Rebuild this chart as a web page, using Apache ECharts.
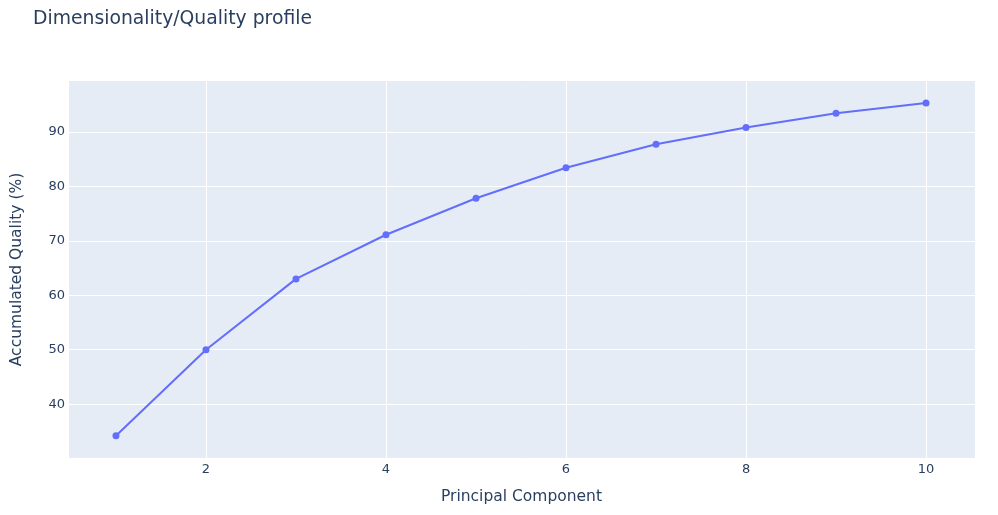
<!DOCTYPE html>
<html>
<head>
<meta charset="utf-8">
<script src="https://cdn.jsdelivr.net/npm/echarts@6/dist/echarts.min.js"></script>
<style>
  html, body { margin: 0; padding: 0; background: #fff; }
  #chart { width: 998px; height: 515px; }
</style>
</head>
<body>
<div id="chart"></div>
<script>
// Data
const components = [1, 2, 3, 4, 5, 6, 7, 8, 9, 10];
const quality = [34.2, 50.0, 63.0, 71.1, 77.8, 83.4, 87.7, 90.8, 93.4, 95.3];

const chart = echarts.init(document.getElementById('chart'));
const font = '"DejaVu Sans", Verdana, Arial, sans-serif';
const textColor = '#2a3f5f';

const option = {
    backgroundColor: '#fff',
    title: {
        text: 'Dimensionality/Quality profile',
        left: 28,
        top: 5,
        textStyle: { fontFamily: font, fontSize: 18.8, fontWeight: 'normal', color: textColor }
    },
    grid: {
        left: 68, right: 23, top: 80, bottom: 56,
        outerBoundsMode: 'none',
        containLabel: false,
        show: true, backgroundColor: '#e5ecf6', borderWidth: 0
    },
    xAxis: {
        type: 'value',
        min: 0.467,
        max: 10.544,
        splitNumber: 5,
        name: 'Principal Component',
        nameLocation: 'middle',
        nameGap: 30,
        nameTextStyle: { fontFamily: font, fontSize: 15.5, color: textColor },
        axisLine: { show: false },
        axisTick: { show: false },
        axisLabel: {
            showMinLabel: false, showMaxLabel: false, margin: 4,
            fontFamily: font, fontSize: 13, color: textColor,
            formatter: v => (v % 2 === 0 ? String(v) : '')
        },
        splitLine: { lineStyle: { color: '#fff', width: 1 } }
    },
    yAxis: {
        type: 'value',
        min: 29.95,
        max: 99.5,
        splitNumber: 7,
        name: 'Accumulated Quality (%)',
        nameLocation: 'middle',
        nameGap: 43,
        nameTextStyle: { fontFamily: font, fontSize: 15.5, color: textColor },
        axisLine: { show: false },
        axisTick: { show: false },
        axisLabel: {
            showMinLabel: false, showMaxLabel: false, margin: 3,
            fontFamily: font, fontSize: 13, color: textColor,
            formatter: v => (v >= 40 && v % 10 === 0 ? String(v) : '')
        },
        splitLine: { lineStyle: { color: '#fff', width: 1 } }
    },
    series: [{
        type: 'line',
        data: components.map((c, i) => [c, quality[i]]),
        symbol: 'circle',
        symbolSize: 7,
        lineStyle: { color: '#636efa', width: 2 },
        itemStyle: { color: '#636efa' },
        animation: false
    }]
};
chart.setOption(option);
</script>
</body>
</html>
